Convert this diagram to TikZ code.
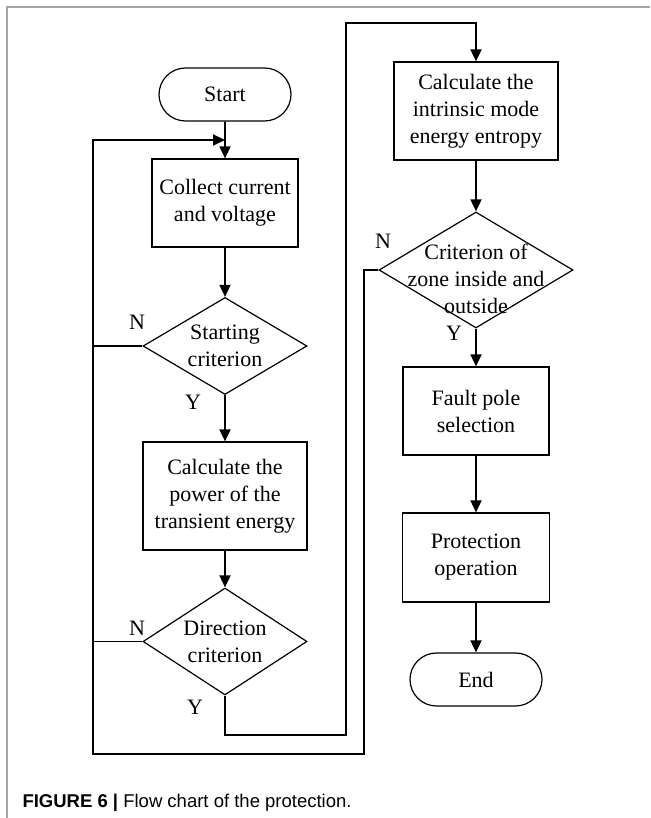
\documentclass[tikz,border=0pt]{standalone}
\usepackage{fontspec}
\setmainfont{Liberation Serif}
\newfontfamily\capfont{Liberation Sans}
\usetikzlibrary{shapes.geometric,shapes.misc,arrows.meta}

\begin{document}
\begin{tikzpicture}[x=1pt,y=1pt,
    font=\fontsize{22}{27}\selectfont,
    txt/.style={align=center, inner sep=0pt},
    terminal/.style={rounded rectangle, draw, line width=1.2pt, minimum width=132pt, minimum height=53pt, inner sep=0pt},
    process/.style 2 args={rectangle, draw, line width=1.2pt, align=center, inner sep=0pt, minimum width=#1, minimum height=#2},
    decision/.style 2 args={diamond, draw, line width=1.2pt, inner sep=0pt, minimum width=#1, minimum height=#2},
    flow/.style={line width=1.8pt, -{Triangle[length=12pt,width=11pt]}},
    wire/.style={line width=1.8pt}]
    \useasboundingbox (0,0) rectangle (650,818);
    \draw[gray!70, line width=1.3pt] (7,0) -- (7,811) -- (650,811);

    % left column
    \node[terminal] (start) at (225,723.5) {Start};
    \node[process={146pt}{88pt}] (collect) at (225,615) {Collect current\\and voltage};
    \node[decision={164pt}{97pt}] (startcrit) at (225,472) {};
    \node[txt] (startcritT) at (225,472) {Starting\\criterion};
    \node[process={164pt}{108pt}] (power) at (225,322) {Calculate the\\power of the\\transient energy};
    \node[decision={164pt}{107pt}] (dircrit) at (225,176.5) {};
    \node[txt] (dircritT) at (225,176.5) {Direction\\criterion};

    % right column
    \node[process={164pt}{98pt}] (intrinsic) at (476,707) {Calculate the\\intrinsic mode\\energy entropy};
    \node[decision={194pt}{116pt}] (zonecrit) at (476,548) {};
    \node[txt] (zonecritT) at (476,539) {Criterion of\\zone inside and\\outside};
    \node[process={146pt}{88pt}] (fault) at (476,407) {Fault pole\\selection};
    \node[process={147pt}{89pt}] (protect) at (476,260.5) {Protection\\operation};
    \node[terminal] (end) at (476,138.5) {End};

    % Y / N marks
    \node (n1) at (137,496) {N};
    \node (y1) at (193,416) {Y};
    \node (n2) at (137,190) {N};
    \node (y2) at (195,111) {Y};
    \node (n3) at (383,577) {N};
    \node (y3) at (454,485) {Y};

    \coordinate (join) at (225,678);
    \coordinate (loopL) at (93,678);
    \coordinate (inA) at (346,83);
    \coordinate (inB) at (346,795);
    \coordinate (outA) at (364,64);

    \draw[flow] (start) -- (collect);
    \draw[flow] (collect) -- (startcrit);
    \draw[flow] (startcrit) -- (power);
    \draw[flow] (power) -- (dircrit);
    \draw[flow] (dircrit.south) |- (inA) -- (inB) -| (intrinsic.north);
    \draw[flow] (intrinsic) -- (zonecrit);
    \draw[flow] (zonecrit) -- (fault);
    \draw[flow] (fault) -- (protect);
    \draw[flow] (protect) -- (end);

    % back to collecting
    \draw[flow] (zonecrit.west) -| (outA) -| (loopL) -- (join);
    \draw[wire] (startcrit.west) -- (startcrit.west -| loopL);
    \draw[wire] (dircrit.west) -- (dircrit.west -| loopL);

    \node[anchor=base west, font=\capfont\fontsize{18.5}{22}\selectfont] (caption) at (19,10) {\textbf{FIGURE 6 |} Flow chart of the protection.};
\end{tikzpicture}
\end{document}
